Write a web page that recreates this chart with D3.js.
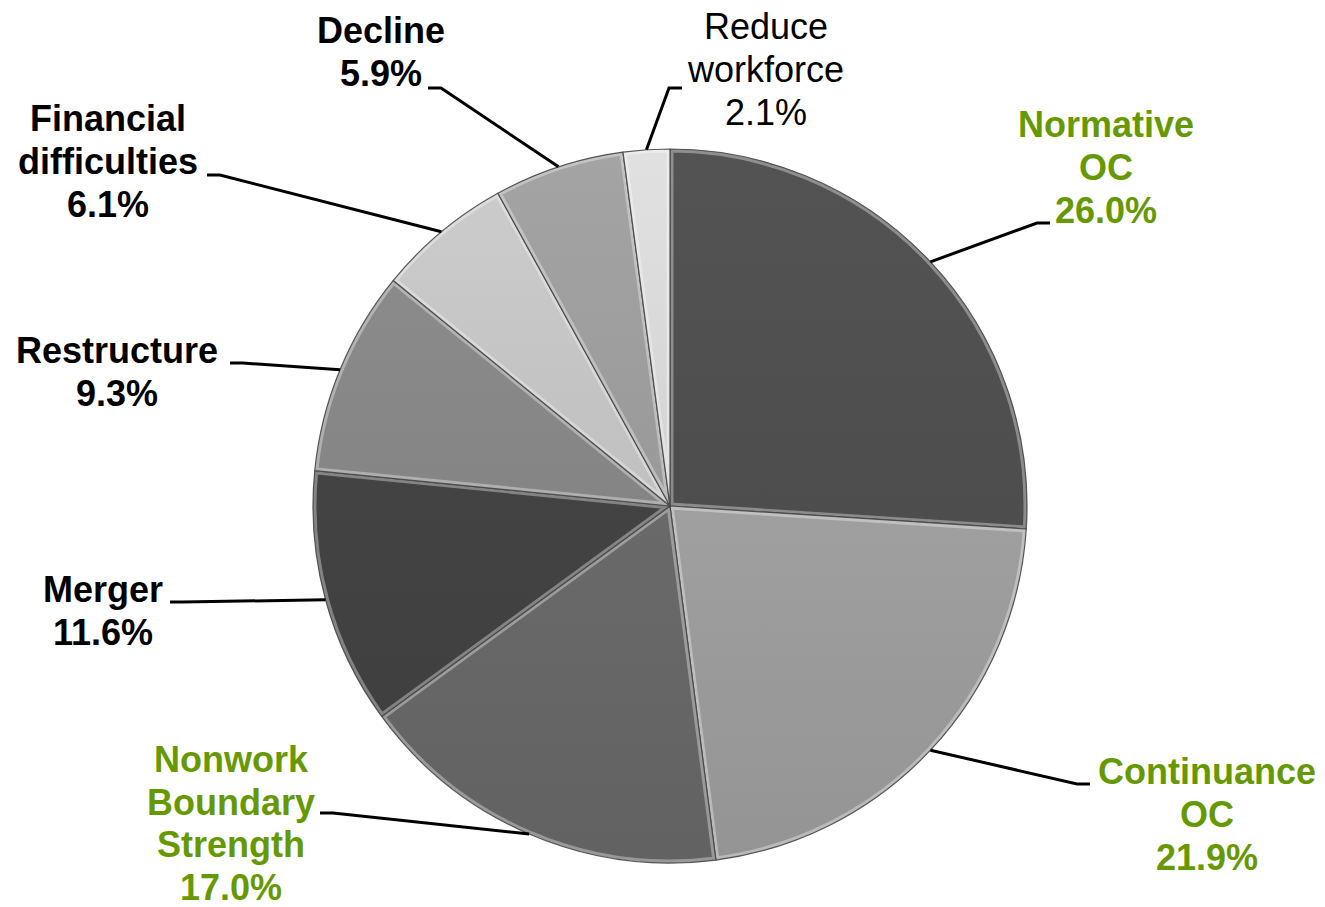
<!DOCTYPE html>
<html>
<head>
<meta charset="utf-8">
<script src="https://cdn.jsdelivr.net/npm/d3@7"></script>
<style>
  html, body { margin: 0; padding: 0; background: #ffffff; }
  svg { display: block; }
</style>
</head>
<body>
<svg id="chart" width="1325" height="907"></svg>
<script>
// ---- data ----
const categories = ["Normative OC", "Continuance OC", "Nonwork Boundary Strength", "Merger",
                    "Restructure", "Financial difficulties", "Decline", "Reduce workforce"];
const values = [26.0, 21.9, 17.0, 11.6, 9.3, 6.1, 5.9, 2.1];
const labelLines = [["Normative", "OC"], ["Continuance", "OC"], ["Nonwork", "Boundary", "Strength"],
                    ["Merger"], ["Restructure"], ["Financial", "difficulties"], ["Decline"], ["Reduce", "workforce"]];
const highlighted = ["Normative OC", "Continuance OC", "Nonwork Boundary Strength"];

// ---- styles / layout (not data) ----
const sliceColors = ["#4e4e4e", "#a0a0a0", "#6a6a6a", "#434343", "#858585", "#c0c0c0", "#9a9a9a", "#d3d3d3"];
const labelLayout = [
  { x: 1106, y: 137, ex: 1050, ey: 223, weight: "bold",   lh: 43 },
  { x: 1207, y: 784, ex: 1090, ey: 784, weight: "bold",   lh: 43 },
  { x: 231,  y: 772, ex: 320,  ey: 813, weight: "bold",   lh: 42.5 },
  { x: 103,  y: 602, ex: 170,  ey: 602, weight: "bold",   lh: 43 },
  { x: 117,  y: 363, ex: 230,  ey: 363, weight: "bold",   lh: 43 },
  { x: 108,  y: 131, ex: 207,  ey: 175, weight: "bold",   lh: 43 },
  { x: 381,  y: 43,  ex: 428,  ey: 88,  weight: "bold",   lh: 43 },
  { x: 766,  y: 39,  ex: 682,  ey: 88,  weight: "normal", lh: 43 }
];
const cx = 670, cy = 506, R = 357;
const green = "#669900";

const svg = d3.select("#chart");
const defs = svg.append("defs");

const pie = d3.pie().sort(null).value(d => d)(values);
const arc = d3.arc().innerRadius(0).outerRadius(R);
const edgeArc = d3.arc().innerRadius(R).outerRadius(R);

const g = svg.append("g").attr("transform", `translate(${cx},${cy})`);

pie.forEach((d, i) => {
  const base = d3.color(sliceColors[i]);
  const grad = defs.append("linearGradient")
    .attr("id", "grad" + i)
    .attr("gradientUnits", "userSpaceOnUse")
    .attr("x1", 0).attr("y1", -R).attr("x2", 0).attr("y2", R);
  grad.append("stop").attr("offset", "0%").attr("stop-color", base.brighter(0.18).formatHex());
  grad.append("stop").attr("offset", "100%").attr("stop-color", base.darker(0.22).formatHex());
  defs.append("clipPath").attr("id", "clip" + i)
    .append("path").attr("d", arc(d));
});

const slices = g.selectAll("g.slice").data(pie).join("g").attr("class", "slice");
slices.append("path")
  .attr("d", arc)
  .attr("fill", (d, i) => `url(#grad${i})`);
// bevel highlight
slices.append("path")
  .attr("d", arc)
  .attr("fill", "none")
  .attr("stroke", "rgba(255,255,255,0.35)")
  .attr("stroke-width", 7)
  .attr("stroke-linejoin", "round")
  .attr("clip-path", (d, i) => `url(#clip${i})`);
slices.append("path")
  .attr("d", arc)
  .attr("fill", "none")
  .attr("stroke", "rgba(70,70,70,0.9)")
  .attr("stroke-width", 1.2)
  .attr("stroke-linejoin", "round");

// leader lines
const leaders = svg.append("g");
pie.forEach((d, i) => {
  const L = labelLayout[i];
  const [px, py] = edgeArc.centroid(d);
  const ax = cx + px, ay = cy + py;
  const dir = ax > L.ex ? 1 : -1;
  const pts = [[L.ex, L.ey], [L.ex + dir * 13, L.ey], [ax, ay]];
  leaders.append("path")
    .attr("d", d3.line()(pts))
    .attr("fill", "none")
    .attr("stroke", "#000")
    .attr("stroke-width", 3);
});

// labels
const labels = svg.append("g")
  .attr("font-family", "'Liberation Sans', Arial, Helvetica, sans-serif")
  .attr("font-size", 36);
categories.forEach((c, i) => {
  const L = labelLayout[i];
  const lines = labelLines[i].concat([values[i].toFixed(1) + "%"]);
  const t = labels.append("text")
    .attr("text-anchor", "middle")
    .attr("font-weight", L.weight)
    .attr("fill", highlighted.includes(c) ? green : "#000");
  lines.forEach((ln, j) => {
    t.append("tspan").attr("x", L.x).attr("y", L.y + j * L.lh).text(ln);
  });
});
</script>
</body>
</html>
